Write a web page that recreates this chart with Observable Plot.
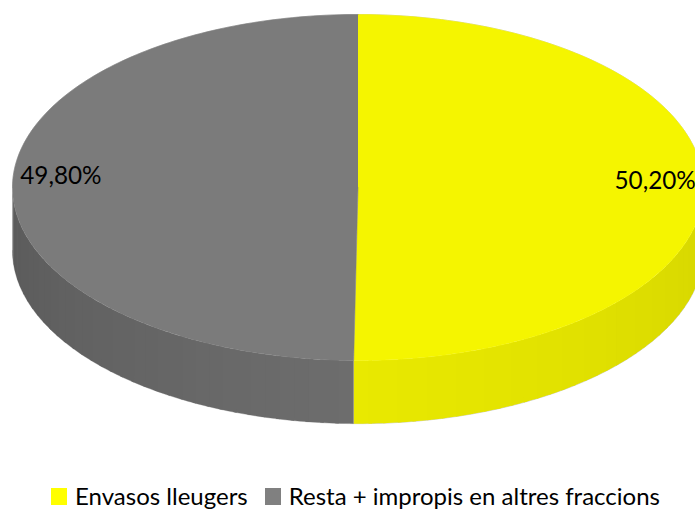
<!DOCTYPE html>
<html><head><meta charset="utf-8">
<script src="https://cdn.jsdelivr.net/npm/d3@7"></script>
<script src="https://cdn.jsdelivr.net/npm/@observablehq/plot@0.6"></script>
<style>
html,body{margin:0;padding:0;background:#fff;width:695px;height:509px;overflow:hidden}
#legend{box-sizing:border-box;width:695px;padding-left:16px;display:flex;justify-content:center;align-items:center;height:28px;font:24px Lato,sans-serif;color:#000;white-space:nowrap}
#legend i{display:inline-block;width:16px;height:17px;margin-right:8px;margin-top:3px}
#legend span{display:flex;align-items:center}
#legend span+span{margin-left:17px}
</style></head><body><div id="chart"></div><div id="legend"></div>
<script>
const categories = ["Envasos lleugers", "Resta + impropis en altres fraccions"];
const shares = [50.20, 49.80];
const labels = ["50,20%", "49,80%"];
const labelOffsets = [-7, -10];
const topColors = ["#f5f500", "#7b7b7b"];
const legendColors = ["#ffff00", "#808080"];
const sideFrom = ["#e9e900", "#6d6d6d"];
const sideTo = ["#d6d600", "#5a5a5a"];
const depth = 0.365, labelRadius = 0.86, step = 2.5;

const rad = d => d * Math.PI / 180;
const sx = a => Math.sin(rad(a)), sy = a => Math.cos(rad(a));
const total = d3.sum(shares);
let start = 0;
const slices = categories.map((name, i) => {
  const a0 = start, a1 = start + shares[i] / total * 360;
  start = a1;
  return {name, i, a0, a1, mid: (a0 + a1) / 2};
});
const arc = (a0, a1) => {
  const n = Math.max(1, Math.ceil(a1 - a0));
  return d3.range(n + 1).map(k => a0 + (a1 - a0) * k / n);
};
const topPts = slices.flatMap(s =>
  [{id: s.i, x: 0, y: 0, c: topColors[s.i]}].concat(arc(s.a0, s.a1).map(a => ({id: s.i, x: sx(a), y: sy(a), c: topColors[s.i]}))));
// side facets, painted outward from the front seam, each overlapping the next
const sidePts = [];
slices.forEach(s => {
  const lo = Math.max(s.a0, 90), hi = Math.min(s.a1, 270);
  const mix = d3.interpolateRgb(sideFrom[s.i], sideTo[s.i]);
  const count = Math.ceil((hi - lo) / step);
  for (let k = 0; k < count; k++) {
    const w = (hi - lo) / count;
    const e0 = s.i === 0 ? Math.max(lo, hi - (k + 1) * w - 0.6) : lo + k * w;
    const e1 = s.i === 0 ? hi - k * w : Math.min(hi, lo + (k + 1) * w + 0.6);
    const c = mix(k / (count - 1));
    const id = s.i + "-" + k;
    const up = arc(e0, e1);
    up.forEach(a => sidePts.push({id, x: sx(a), y: sy(a), c}));
    up.slice().reverse().forEach(a => sidePts.push({id, x: sx(a), y: sy(a) - depth, c}));
  }
});
const outline = arc(-90, 90).map(a => ({x: sx(a), y: sy(a)}))
  .concat(arc(90, 270).map(a => ({x: sx(a), y: sy(a) - depth})));

const plot = Plot.plot({
  width: 695, height: 481, margin: 0,
  x: {domain: [-1, 1], range: [12, 703], axis: null},
  y: {domain: [1, -1], range: [14, 360], axis: null},
  color: {type: "identity"},
  style: {background: "transparent"},
  marks: [
    Plot.line(outline, {x: "x", y: "y", stroke: "#c4c4c4", strokeWidth: 0.8, fill: "none"}),
    Plot.line(sidePts, {x: "x", y: "y", z: "id", fill: "c", stroke: "none"}),
    Plot.line(topPts, {x: "x", y: "y", z: "id", fill: "c", stroke: "c", strokeWidth: 0.5}),
    ...slices.map((s, i) => Plot.text([{x: labelRadius * sx(s.mid), y: labelRadius * sy(s.mid), t: labels[i]}], {
      x: "x", y: "y", text: "t", dy: labelOffsets[i], fontSize: 24.3, fontFamily: "Lato", fill: "#000", textAnchor: "middle"
    }))
  ]
});
document.getElementById("chart").appendChild(plot);
plot.style.display = "block";
const lg = document.getElementById("legend");
categories.forEach((c, i) => {
  const s = document.createElement("span");
  const b = document.createElement("i");
  b.style.background = legendColors[i];
  s.appendChild(b); s.appendChild(document.createTextNode(c));
  lg.appendChild(s);
});
</script></body></html>
